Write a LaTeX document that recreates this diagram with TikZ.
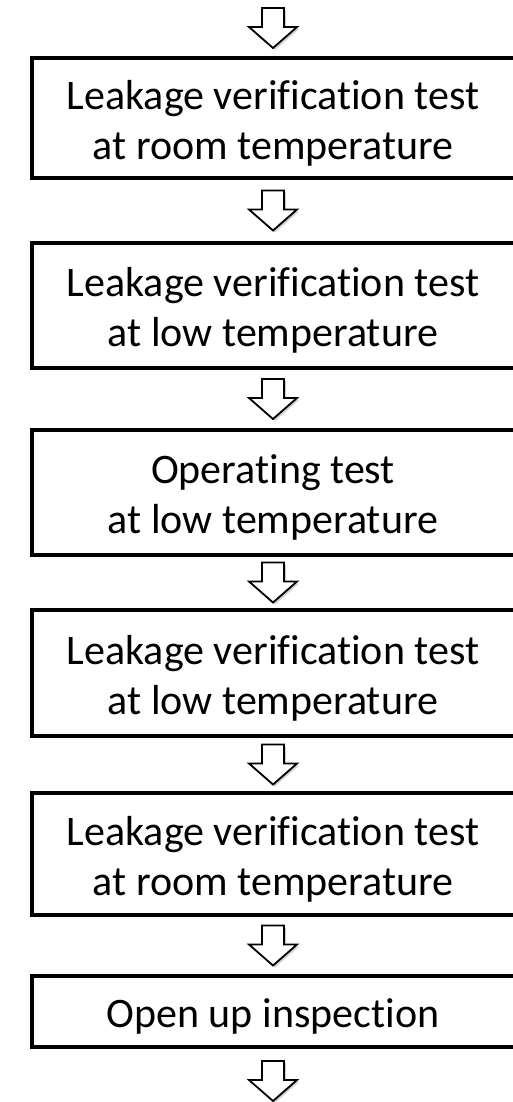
\documentclass[tikz,border=0pt]{standalone}
\usepackage{fontspec}
\setmainfont{Carlito}[Ligatures={NoCommon}]
\usepackage{tikz}
\usetikzlibrary{calc,shadows}

\tikzset{
  stepbox/.style={draw=black,line width=2pt,fill=white,anchor=west,
    minimum width=255pt,inner sep=0pt,
    drop shadow={shadow xshift=1.2pt,shadow yshift=-1.2pt,opacity=0.18,fill=black}},
  steptext/.style={align=center,inner sep=0pt,font=\fontsize{21}{25}\selectfont},
  blockarrow/.style={draw=black,line width=0.9pt,fill=white,line join=miter,
    drop shadow={shadow xshift=1pt,shadow yshift=-1pt,opacity=0.18,fill=black}}
}

\begin{document}
\begin{tikzpicture}[x=0.5pt,y=-0.5pt]
\path[use as bounding box,clip] (0,0) rectangle (513,1102);
\fill[white] (0,0) rectangle (513,1102);

\coordinate (in) at (273,0);
\coordinate (out) at (273,1113);

% the test sequence, top to bottom
\foreach \n/\y/\h/\txt in {1/118/120/{Leakage verification test\\at room temperature},
                           2/305.5/125/{Leakage verification test\\at low temperature},
                           3/492.5/125/{Operating test\\at low temperature},
                           4/673/126/{Leakage verification test\\at low temperature},
                           5/854/122/{Leakage verification test\\at room temperature},
                           6/1011.5/71/{Open up inspection}}{
  \node[stepbox,minimum height=\h*0.5pt] (b\n) at (30,\y) {};
  \node[steptext] (t\n) at (273,\y+5) {\txt};
}

% hollow arrows between the steps
\foreach \a/\b in {in/b1.north, b1.south/b2.north, b2.south/b3.north,
                   b3.south/b4.north, b4.south/b5.north, b5.south/b6.north,
                   b6.south/out}{
  \path ($(\a)!0.5!(\b)$) coordinate (m);
  \draw[blockarrow] (in |- m) ++(-11,-20) -- ++(22,0) -- ++(0,19)
    -- ++(13,0) -- ++(-24,21) -- ++(-24,-21) -- ++(13,0) -- cycle;
}
\end{tikzpicture}
\end{document}
